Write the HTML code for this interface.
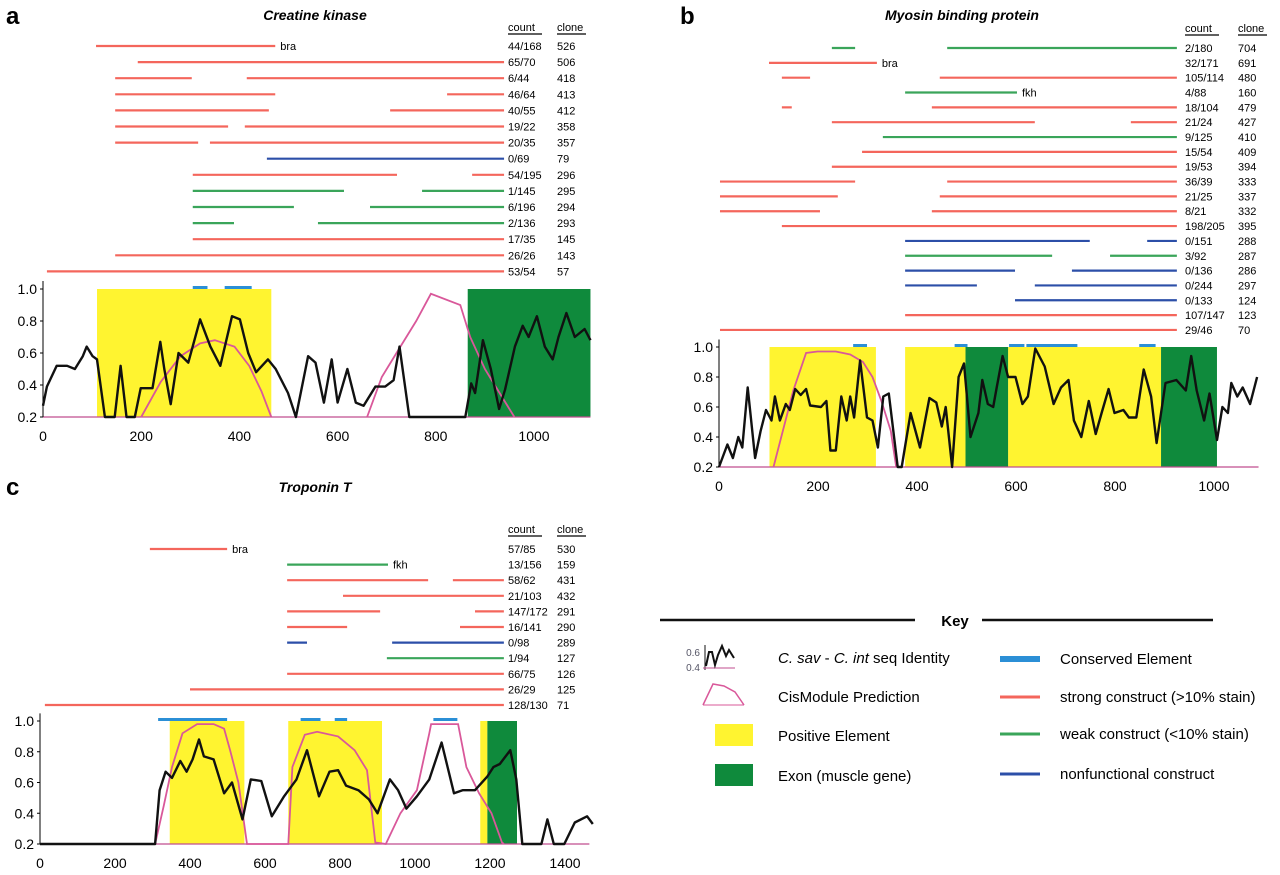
<!DOCTYPE html>
<html><head><meta charset="utf-8"><style>
body{margin:0;background:#fff;width:1280px;height:875px;overflow:hidden;font-family:"Liberation Sans",sans-serif}
svg{position:absolute;left:0;top:0}
</style></head><body>
<svg id="fig" width="1280" height="875" viewBox="0 0 1280 875" font-family="Liberation Sans, sans-serif"></svg>
<script>
// ---------- Panel A data ----------
const aIdU=[0,8,28,49,65,81,89,101,110,126,146,158,170,187,199,223,239,247,260,276,296,320,341,361,385,401,418,434,458,474,499,515,540,555,572,588,600,620,637,653,677,697,714,726,746,860,872,880,896,912,929,941,961,977,989,1006,1022,1038,1050,1066,1083,1103,1115];
const aIdV=[0.27,0.39,0.52,0.52,0.5,0.58,0.64,0.58,0.56,0.2,0.2,0.52,0.2,0.2,0.38,0.38,0.67,0.5,0.28,0.6,0.54,0.81,0.64,0.52,0.83,0.81,0.6,0.48,0.56,0.5,0.35,0.2,0.58,0.54,0.29,0.56,0.29,0.5,0.29,0.27,0.39,0.39,0.43,0.64,0.2,0.2,0.41,0.35,0.68,0.5,0.25,0.37,0.64,0.77,0.7,0.83,0.64,0.56,0.7,0.85,0.7,0.75,0.68];
const aCisU=[200,240,280,320,350,390,420,445,465, 660,690,720,760,790,850,870,900,940,960];
const aCisV=[0.2,0.42,0.58,0.66,0.68,0.64,0.52,0.36,0.2, 0.2,0.45,0.6,0.8,0.97,0.9,0.7,0.5,0.3,0.2];
const aCisBreak=[9];
const aPos=[[110,465]];
const aExon=[[865,1115]];
const aCons=[[305,335],[370,425]];
const aSegs=[[[108,473]],[[193,939]],[[147,303],[415,939]],[[147,473],[823,939]],[[147,460],[707,939]],[[147,377],[411,939]],[[147,316],[340,939]],[[456,939]],[[305,721],[874,939]],[[305,613],[772,939]],[[305,511],[666,939]],[[305,389],[560,939]],[[305,939]],[[147,939]],[[8,939]]];
const aType=['s','s','s','s','s','s','s','n','s','w','w','w','s','s','s'];
const aCount=['44/168','65/70','6/44','46/64','40/55','19/22','20/35','0/69','54/195','1/145','6/196','2/136','17/35','26/26','53/54'];
const aClone=['526','506','418','413','412','358','357','79','296','295','294','293','145','143','57'];
const aTags=[[0,'bra']];
const aXTicks=[0,200,400,600,800,1000];
// ---------- Panel B data ----------
const bIdU=[0,17,28,39,47,58,73,84,95,106,113,123,135,143,154,165,176,184,206,217,225,236,247,258,265,273,285,299,310,321,332,343,361,369,387,406,425,439,450,458,471,484,495,508,524,532,543,554,561,573,584,599,613,624,639,658,676,691,706,717,732,747,761,773,787,799,817,828,843,858,873,884,902,924,943,954,965,980,991,1006,1017,1028,1035,1047,1058,1073,1087];
const bIdV=[0.2,0.35,0.26,0.4,0.33,0.73,0.26,0.44,0.58,0.51,0.67,0.51,0.62,0.58,0.72,0.68,0.72,0.61,0.6,0.64,0.31,0.31,0.67,0.51,0.67,0.53,0.91,0.53,0.51,0.33,0.67,0.69,0.2,0.2,0.56,0.33,0.66,0.63,0.47,0.6,0.2,0.8,0.89,0.4,0.56,0.78,0.62,0.6,0.73,0.94,0.8,0.8,0.62,0.67,0.99,0.87,0.62,0.73,0.78,0.51,0.4,0.64,0.42,0.56,0.72,0.56,0.58,0.53,0.53,0.85,0.67,0.36,0.76,0.78,0.71,0.94,0.71,0.51,0.69,0.38,0.6,0.56,0.76,0.67,0.73,0.62,0.8];
const bCisU=[110,150,176,199,236,265,291,310,328,347,358];
const bCisV=[0.2,0.71,0.96,0.97,0.97,0.95,0.9,0.8,0.64,0.44,0.2];
const bCisBreak=[];
const bPos=[[102,317],[376,498],[584,893]];
const bExon=[[498,584],[893,1006]];
const bCons=[[271,299],[476,502],[586,617],[621,724],[849,882]];
const bSegs=[[[228,275],[461,925]],[[101,319]],[[127,184],[446,925]],[[376,602]],[[127,147],[430,925]],[[228,638],[832,925]],[[331,925]],[[289,925]],[[228,925]],[[2,275],[461,925]],[[2,240],[446,925]],[[2,204],[430,925]],[[127,925]],[[376,749],[865,925]],[[376,673],[790,925]],[[376,598],[713,925]],[[376,521],[638,925]],[[598,925]],[[376,925]],[[2,925]]];
const bType=['w','s','s','w','s','s','w','s','s','s','s','s','s','n','w','n','n','n','s','s'];
const bCount=['2/180','32/171','105/114','4/88','18/104','21/24','9/125','15/54','19/53','36/39','21/25','8/21','198/205','0/151','3/92','0/136','0/244','0/133','107/147','29/46'];
const bClone=['704','691','480','160','479','427','410','409','394','333','337','332','395','288','287','286','297','124','123','70'];
const bTags=[[1,'bra'],[3,'fkh']];
const bXTicks=[0,200,400,600,800,1000];
// ---------- Panel C data ----------
const cIdU=[0,307,319,335,352,374,391,407,424,437,463,491,512,540,562,590,618,651,684,712,744,772,795,816,849,877,900,933,955,977,1005,1038,1071,1087,1104,1127,1160,1193,1209,1226,1254,1270,1286,1337,1353,1370,1398,1426,1459,1474];
const cIdV=[0.2,0.2,0.55,0.67,0.63,0.74,0.67,0.75,0.88,0.77,0.75,0.53,0.6,0.36,0.62,0.61,0.38,0.51,0.62,0.81,0.51,0.67,0.68,0.58,0.55,0.49,0.4,0.62,0.55,0.43,0.51,0.62,0.86,0.7,0.53,0.55,0.55,0.64,0.7,0.72,0.81,0.62,0.2,0.2,0.36,0.2,0.2,0.34,0.38,0.33];
const cCisU=[307,330,352,380,419,463,491,507,529,552, 662,673,706,739,795,839,872,894,922, 961,1005,1038,1043,1115,1137,1171,1204,1232,1237];
const cCisV=[0.2,0.45,0.7,0.92,0.98,0.98,0.95,0.81,0.6,0.2, 0.2,0.7,0.91,0.93,0.9,0.81,0.68,0.21,0.2, 0.4,0.55,0.92,0.98,0.98,0.7,0.53,0.4,0.21,0.2];
const cCisBreak=[];
const cPos=[[346,545],[662,912],[1174,1193]];
const cExon=[[1193,1272]];
const cCons=[[315,499],[695,748],[786,819],[1049,1113]];
const cSegs=[[[293,499]],[[659,928]],[[659,1035],[1101,1237]],[[808,1237]],[[659,907],[1160,1237]],[[659,819],[1120,1237]],[[659,712],[939,1237]],[[925,1237]],[[659,1237]],[[400,1237]],[[13,1237]]];
const cType=['s','w','s','s','s','s','n','w','s','s','s'];
const cCount=['57/85','13/156','58/62','21/103','147/172','16/141','0/98','1/94','66/75','26/29','128/130'];
const cClone=['530','159','431','432','291','290','289','127','126','125','71'];
const cTags=[[0,'bra'],[1,'fkh']];
const cXTicks=[0,200,400,600,800,1000,1200,1400];
const yTicks=[0.2,0.4,0.6,0.8,1.0];

const NS='http://www.w3.org/2000/svg';
const svg=document.getElementById('fig');
const COL={s:'#f4665c',w:'#3aa55a',n:'#2c4fa8'};
function mk(tag,parent,attrs){const e=document.createElementNS(NS,tag);for(const k in attrs)e.setAttribute(k,attrs[k]);parent.appendChild(e);return e;}

function panel(cfg){
  const g=mk('g',svg,{});
  
  
  const sx=u=>cfg.x0+u*cfg.pxu;
  const sy=v=>cfg.y02-(v-0.2)/0.8*(cfg.y02-cfg.y10);
  const xEnd=sx(cfg.uMax);
  let t=mk('text',g,{x:cfg.letterX,y:cfg.letterY,'font-size':24,'font-weight':'bold'});t.textContent=cfg.id;
  
  
  t=mk('text',g,{x:cfg.titleX,y:cfg.titleY,'font-size':14,'font-weight':'bold','font-style':'italic','text-anchor':'middle'});t.textContent=cfg.title;
  
  
  t=mk('text',g,{x:cfg.countX,y:cfg.headY,'font-size':11});t.textContent='count';
  
  
  mk('line',g,{x1:cfg.countX,x2:cfg.countX+34,y1:cfg.headY+3,y2:cfg.headY+3,stroke:'#000','stroke-width':1.2});
  t=mk('text',g,{x:cfg.cloneX,y:cfg.headY,'font-size':11});t.textContent='clone';
  
  
  mk('line',g,{x1:cfg.cloneX,x2:cfg.cloneX+29,y1:cfg.headY+3,y2:cfg.headY+3,stroke:'#000','stroke-width':1.2});
  cfg.segs.forEach((row,i)=>{
    const y=cfg.rowY0+i*cfg.rowDy;
    row.forEach(s=>{
      const l=mk('line',g,{x1:sx(s[0]),x2:sx(s[1]),y1:y,y2:y,stroke:COL[cfg.type[i]],'stroke-width':2.2});
      
      
    });
    let c=mk('text',g,{x:cfg.countX,y:y+4,'font-size':11});c.textContent=cfg.count[i];
    
    
    c=mk('text',g,{x:cfg.cloneX,y:y+4,'font-size':11});c.textContent=cfg.clone[i];
    
    
  });
  cfg.tags.forEach(tg=>{
    const row=cfg.segs[tg[0]];const y=cfg.rowY0+tg[0]*cfg.rowDy;
    const tt=mk('text',g,{x:sx(row[row.length-1][1])+5,y:y+4,'font-size':11});tt.textContent=tg[1];
    
    
  });
  cfg.pos.forEach(r=>{const e=mk('rect',g,{x:sx(r[0]),y:sy(1),width:sx(r[1])-sx(r[0]),height:sy(0.2)-sy(1),fill:'#fff430'});
    
    });
  cfg.exon.forEach(r=>{const e=mk('rect',g,{x:sx(r[0]),y:sy(1),width:sx(r[1])-sx(r[0]),height:sy(0.2)-sy(1),fill:'#0f8a3c'});
    
    });
  cfg.cons.forEach(r=>{const e=mk('rect',g,{x:sx(r[0]),y:sy(1)-3,width:sx(r[1])-sx(r[0]),height:3,fill:'#2b8fd6'});
    
    });
  mk('line',g,{x1:cfg.x0,x2:xEnd,y1:sy(0.2),y2:sy(0.2),stroke:'#c04d8f','stroke-width':1.2});
  mk('line',g,{x1:cfg.x0,x2:cfg.x0,y1:sy(1.05),y2:sy(0.2),stroke:'#000','stroke-width':1});
  yTicks.forEach(v=>{
    mk('line',g,{x1:cfg.x0-3,x2:cfg.x0,y1:sy(v),y2:sy(v),stroke:'#000'});
    const e=mk('text',g,{x:cfg.x0-6,y:sy(v)+5,'font-size':14,'text-anchor':'end'});e.textContent=v.toFixed(1);
    
    
  });
  cfg.xticks.forEach(u=>{
    const e=mk('text',g,{x:sx(u),y:sy(0.2)+24,'font-size':14,'text-anchor':'middle'});e.textContent=u;
    
    
  });
  let d='';cfg.cisU.forEach((u,i)=>{d+=((i===0||cfg.cisBreak.includes(i))?'M':'L')+sx(u).toFixed(1)+' '+sy(cfg.cisV[i]).toFixed(1)+' ';});
  const cp=mk('path',g,{d:d,fill:'none',stroke:'#d9589a','stroke-width':1.8});
  
  
  d='';cfg.idU.forEach((u,i)=>{d+=(i===0?'M':'L')+sx(u).toFixed(1)+' '+sy(cfg.idV[i]).toFixed(1)+' ';});
  const ip=mk('path',g,{d:d,fill:'none',stroke:'#111','stroke-width':2.4,'stroke-linejoin':'round'});
  
  
}

panel({id:'a',title:'Creatine kinase',letterX:6,letterY:24,titleX:315,titleY:20,x0:43,pxu:0.491,uMax:1115,y10:289,y02:417,
  countX:508,cloneX:557,headY:31,rowY0:46,rowDy:16.1,segs:aSegs,type:aType,count:aCount,clone:aClone,tags:aTags,
  pos:aPos,exon:aExon,cons:aCons,cisU:aCisU,cisV:aCisV,cisBreak:aCisBreak,idU:aIdU,idV:aIdV,xticks:aXTicks});
panel({id:'b',title:'Myosin binding protein',letterX:680,letterY:24,titleX:962,titleY:20,x0:719,pxu:0.495,uMax:1090,y10:347,y02:467,
  countX:1185,cloneX:1238,headY:32,rowY0:48,rowDy:14.84,segs:bSegs,type:bType,count:bCount,clone:bClone,tags:bTags,
  pos:bPos,exon:bExon,cons:bCons,cisU:bCisU,cisV:bCisV,cisBreak:bCisBreak,idU:bIdU,idV:bIdV,xticks:bXTicks});
panel({id:'c',title:'Troponin T',letterX:6,letterY:495,titleX:315,titleY:492,x0:40,pxu:0.375,uMax:1465,y10:721,y02:844,
  countX:508,cloneX:557,headY:533,rowY0:549,rowDy:15.6,segs:cSegs,type:cType,count:cCount,clone:cClone,tags:cTags,
  pos:cPos,exon:cExon,cons:cCons,cisU:cCisU,cisV:cCisV,cisBreak:cCisBreak,idU:cIdU,idV:cIdV,xticks:cXTicks});
</script>
<svg width="1280" height="875" style="pointer-events:none">
  <line x1="660" y1="620" x2="915" y2="620" stroke="#111" stroke-width="2.5"/>
  <line x1="982" y1="620" x2="1213" y2="620" stroke="#111" stroke-width="2.5"/>
  <text x="955" y="626" font-size="15" font-weight="bold" text-anchor="middle">Key</text>
  <g>
    <text x="700" y="656" font-size="10" fill="#556" text-anchor="end">0.6</text>
    <text x="700" y="671" font-size="10" fill="#556" text-anchor="end">0.4</text>
    <line x1="705" y1="645" x2="705" y2="670" stroke="#111"/>
    <line x1="703" y1="668" x2="735" y2="668" stroke="#c04d8f"/>
    <polyline points="706,666 709,652 712,652 715,665 718,655 722,646 726,656 729,650 734,658" fill="none" stroke="#111" stroke-width="2"/>
    <text x="778" y="663" font-size="15"><tspan font-style="italic">C. sav</tspan> - <tspan font-style="italic">C. int</tspan> seq Identity</text>
  </g>
  <g>
    <polyline points="703,705 713,684 724,686 735,692 744,705" fill="none" stroke="#d9589a" stroke-width="1.5"/>
    <line x1="703" y1="705" x2="744" y2="705" stroke="#d9589a"/>
    <text x="778" y="702" font-size="15">CisModule Prediction</text>
  </g>
  <g>
    <rect x="715" y="724" width="38" height="22" fill="#fff430"/>
    <text x="778" y="741" font-size="15">Positive Element</text>
  </g>
  <g>
    <rect x="715" y="764" width="38" height="22" fill="#0f8a3c"/>
    <text x="778" y="781" font-size="15">Exon (muscle gene)</text>
  </g>
  <g>
    <rect x="1000" y="656" width="40" height="6" fill="#2b8fd6"/>
    <text x="1060" y="664" font-size="15">Conserved Element</text>
  </g>
  <g>
    <line x1="1000" y1="697" x2="1040" y2="697" stroke="#f4665c" stroke-width="3"/>
    <text x="1060" y="702" font-size="15">strong construct (&gt;10% stain)</text>
  </g>
  <g>
    <line x1="1000" y1="734" x2="1040" y2="734" stroke="#3aa55a" stroke-width="3"/>
    <text x="1060" y="739" font-size="15">weak construct (&lt;10% stain)</text>
  </g>
  <g>
    <line x1="1000" y1="774" x2="1040" y2="774" stroke="#2c4fa8" stroke-width="3"/>
    <text x="1060" y="779" font-size="15">nonfunctional construct</text>
  </g>
</svg>
</body></html>
